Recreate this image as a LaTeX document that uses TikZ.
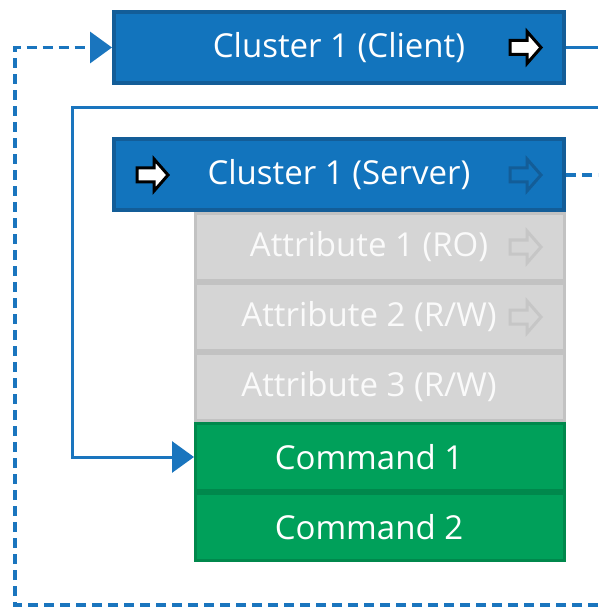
\documentclass[tikz,border=0pt]{standalone}
\usepackage{fontspec}
\setmainfont{Open Sans}
\usepackage{xcolor}
\definecolor{zclblue}{RGB}{18,116,189}
\definecolor{zclborder}{RGB}{19,93,152}
\definecolor{zclline}{RGB}{26,117,190}
\definecolor{zclgray}{RGB}{213,213,213}
\definecolor{zclgrayline}{RGB}{194,194,194}
\definecolor{zclgrayarrow}{RGB}{198,198,198}
\definecolor{zcltext}{RGB}{250,250,250}
\definecolor{zclgreen}{RGB}{0,160,90}
\definecolor{zclgreenline}{RGB}{0,136,76}
\usetikzlibrary{arrows.meta, positioning}

\tikzset{
  cluster/.style={draw=zclborder, fill=zclblue, line width=4pt, minimum width=450pt,
    minimum height=71pt, inner sep=0pt, text=white, font=\fontsize{33}{38}\selectfont},
  attrbox/.style={draw=zclgrayline, fill=zclgray, line width=3pt, minimum width=369pt,
    minimum height=67pt, inner sep=0pt, text=zcltext, font=\fontsize{33}{38}\selectfont,
    execute at end node={\hspace*{22pt}}},
  cmdbox/.style={attrbox, draw=zclgreenline, fill=zclgreen, text=white},
  link/.style={zclline, line width=3pt},
  linkdash/.style={link, line width=3.5pt, dash pattern=on 10pt off 6pt},
  tip/.style={-{Triangle[length=22pt,width=31pt]}},
  flowarrow/.pic={\path[pic actions] (-15,-7) -- (2,-7) -- (2,-16) -- (16,0) -- (2,16) -- (2,7) -- (-15,7) -- cycle;}
}

\begin{document}
\begin{tikzpicture}[x=1pt, y=-1pt]
  \useasboundingbox (0,0) rectangle (598,609);

  % Clusters
  \node[cluster] (cli) at (339,47.5) {Cluster 1 (Client)};
  \node[cluster] (srv) at (339,175) {Cluster 1 (Server)};

  % Attributes and commands of the server
  \node[attrbox, anchor=north] (attr1) at (380,212) {Attribute 1 (RO)};
  \node[attrbox, below=0pt of attr1] (attr2) {Attribute 2 (R/W)};
  \node[attrbox, below=0pt of attr2] (attr3) {Attribute 3 (R/W)};
  \node[cmdbox, below=0pt of attr3] (cmd1) {Command 1};
  \node[cmdbox, below=0pt of cmd1] (cmd2) {Command 2};

  % Direction icons
  \pic[draw=black, fill=white, line width=3pt] at ([xshift=-41pt]cli.east) {flowarrow};
  \pic[draw=black, fill=white, line width=3pt] at ([xshift=40pt]srv.west) {flowarrow};
  \pic[draw=zclborder, line width=3pt] at ([xshift=-41pt]srv.east) {flowarrow};
  \pic[draw=zclgrayarrow, line width=3pt] at ([xshift=-41pt]attr1.east) {flowarrow};
  \pic[draw=zclgrayarrow, line width=3pt] at ([xshift=-41pt]attr2.east) {flowarrow};

  % Connectors leaving the picture
  \coordinate (cliOut) at (598,47.5);
  \coordinate (cliIn) at (598,108);
  \coordinate (srvOut) at (598,175);
  \coordinate (srvIn) at (598,605);

  \draw[link] (cli.east) -- (cliOut);
  \draw[link, tip] (cliIn) -- (72,108) |- (cmd1.west);
  \draw[linkdash] (srv.east) -- (srvOut);
  \draw[linkdash, tip] (srvIn) -- (15,605) |- (cli.west);
\end{tikzpicture}
\end{document}
